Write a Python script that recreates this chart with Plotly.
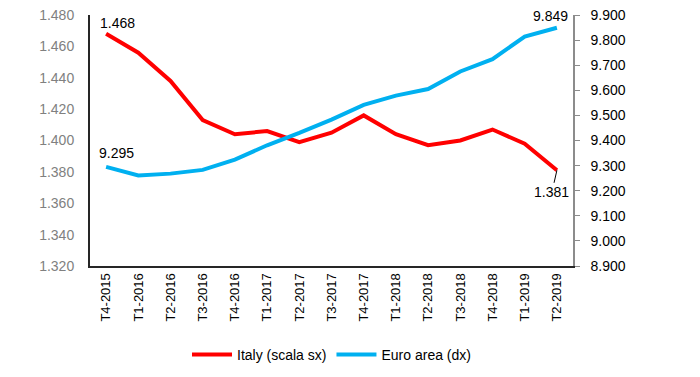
import plotly.graph_objects as go

quarters = ["T4-2015", "T1-2016", "T2-2016", "T3-2016", "T4-2016", "T1-2017", "T2-2017",
            "T3-2017", "T4-2017", "T1-2018", "T2-2018", "T3-2018", "T4-2018", "T1-2019", "T2-2019"]
italy = [1468, 1456, 1438, 1413, 1404, 1406, 1399, 1405, 1416, 1404, 1397, 1400, 1407, 1398, 1381]
euro = [9295, 9261, 9268, 9283, 9324, 9381, 9430, 9483, 9542, 9579, 9605, 9675, 9724, 9814, 9849]
left_ticks = [1320, 1340, 1360, 1380, 1400, 1420, 1440, 1460, 1480]
right_ticks = [8900, 9000, 9100, 9200, 9300, 9400, 9500, 9600, 9700, 9800, 9900]

FONT = "Liberation Sans, Arial, sans-serif"
FS = 13

fig = go.Figure()
fig.add_trace(go.Scatter(x=quarters, y=italy, mode="lines", name="Italy (scala sx)",
                         line=dict(color="#FF0000", width=4), yaxis="y"))
fig.add_trace(go.Scatter(x=quarters, y=euro, mode="lines", name="Euro area (dx)",
                         line=dict(color="#00B0F0", width=4), yaxis="y2"))

def fmt(v):
    return f"{v:,}".replace(",", ".")

fig.add_annotation(x=quarters[0], y=italy[0], yref="y", text=fmt(italy[0]), showarrow=False,
                   xanchor="left", yanchor="bottom", xshift=-8, yshift=1,
                   font=dict(size=FS + 1, color="black", family=FONT))
fig.add_annotation(x=quarters[0], y=euro[0], yref="y2", text=fmt(euro[0]), showarrow=False,
                   xanchor="left", yanchor="bottom", xshift=-9, yshift=4,
                   font=dict(size=FS + 1, color="black", family=FONT))
fig.add_annotation(x=quarters[-1], y=euro[-1], yref="y2", text=fmt(euro[-1]), showarrow=False,
                   xanchor="right", yanchor="bottom", xshift=13, yshift=2,
                   font=dict(size=FS + 1, color="black", family=FONT))
fig.add_annotation(x=quarters[-1], y=italy[-1], yref="y", text=fmt(italy[-1]), showarrow=True,
                   arrowhead=0, arrowwidth=1, arrowcolor="black", ax=-5, ay=22,
                   font=dict(size=FS + 1, color="black", family=FONT))

fig.update_layout(
    width=700, height=377,
    margin=dict(l=82, r=135, t=7, b=119, autoexpand=False),
    paper_bgcolor="white", plot_bgcolor="white",
    separators=",.",
    font=dict(family=FONT, size=FS, color="black"),
    showlegend=True,
    legend=dict(orientation="h", x=0.5, xanchor="center", y=-0.29, yanchor="top",
                font=dict(size=FS + 1, color="black", family=FONT), itemwidth=40),
    xaxis=dict(type="category", tickangle=-90, showgrid=False, showline=True,
               linecolor="#262626", linewidth=2, ticks="", tickfont=dict(size=FS, color="black"),
               range=[-0.5, 14.5], automargin=False),
    yaxis=dict(range=[1320, 1480], tickvals=left_ticks, tickformat=",d", showgrid=False,
               showline=True, linecolor="#262626", linewidth=2, ticks="", zeroline=False,
               tickfont=dict(size=FS + 1, color="#808080"), ticklabelstandoff=11,
               ticklabeloverflow="allow", automargin=False),
    yaxis2=dict(range=[8900, 9900], tickvals=right_ticks, tickformat=",d", overlaying="y",
                side="right", showgrid=False, showline=True, linecolor="#8c8c8c", linewidth=1.5,
                ticks="outside", ticklen=5, tickcolor="#8c8c8c", zeroline=False,
                tickfont=dict(size=FS + 1, color="black"), ticklabelstandoff=8,
                ticklabeloverflow="allow", automargin=False),
)

fig.write_html("out.html")
